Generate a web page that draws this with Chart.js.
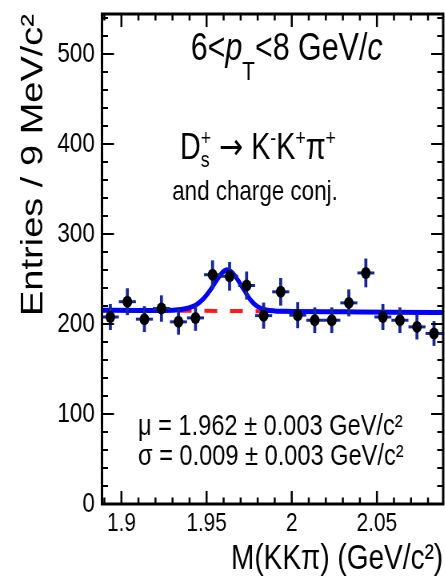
<!DOCTYPE html>
<html>
<head>
<meta charset="utf-8">
<script src="https://cdn.jsdelivr.net/npm/chart.js@4.4.1/dist/chart.umd.min.js"></script>
<style>
html, body { margin: 0; padding: 0; overflow: hidden; background: #fff; }
#wrap { width: 560px; height: 578px; transform: scaleX(0.8); transform-origin: 0 0; }
</style>
</head>
<body>
<div id="wrap"><canvas id="chart" width="560" height="578"></canvas></div>
<script>
'use strict'

// bin centres (GeV/c^2), entries and errors
const massX = [1.8935, 1.9035, 1.9135, 1.9235, 1.9335, 1.9435, 1.9535, 1.9635, 1.9735, 1.9835,
               1.9935, 2.0035, 2.0135, 2.0235, 2.0335, 2.0435, 2.0535, 2.0635, 2.0735, 2.0835];
const entries = [208, 225, 205.6, 217.4, 202.6, 207, 255, 253.3, 243, 209.5,
                 236, 210, 204.4, 204.4, 223.7, 257, 208, 204.4, 197, 189.7];
const entriesErr = [14.5, 15, 14.4, 14.7, 14.3, 14.4, 16, 16, 15.6, 14.5,
                    15.4, 14.5, 14.3, 14.3, 15, 16, 14.5, 14.3, 14, 13.8];
const binHalf = 0.005;

// fit (blue) and background (red dashed)
const fitX = [1.8886, 1.91, 1.925, 1.935, 1.94, 1.944, 1.948, 1.952, 1.956, 1.959, 1.962,
              1.965, 1.968, 1.972, 1.976, 1.98, 1.985, 1.99, 2.0, 2.03, 2.06, 2.0889];
const fitY = [215.6, 215.3, 215.2, 216.4, 218.5, 221.6, 228, 237.5, 249, 257, 260.5,
              257.5, 250, 238, 226.5, 219.5, 215.8, 214.7, 214.2, 213.8, 213.4, 213.0];
const bkgX = [1.8886, 2.0889];
const bkgY = [215.6, 213.0];

const xRange = [1.8886, 2.0889];
const yRange = [0, 545];
const xTicks = [1.9, 1.95, 2, 2.05];
const yTicks = [0, 100, 200, 300, 400, 500];

const xTitle = 'M(KKπ) (GeV/c²)';
const yTitle = 'Entries / 9 MeV/c²';
const muText = 'μ = 1.962 ± 0.003 GeV/c²';
const sigmaText = 'σ = 0.009 ± 0.003 GeV/c²';

const fam = '"Liberation Sans", Arial, Helvetica, sans-serif';
Chart.defaults.font.family = fam;
Chart.defaults.color = '#000';

function tickValues(majors, min, max) {
    const step = (majors[1] - majors[0]) / 5;
    const out = [];
    let k = Math.ceil((min - majors[0]) / step - 1e-6);
    for (; majors[0] + k * step <= max + 1e-9; k++) {
        out.push({ v: majors[0] + k * step, major: ((k % 5) + 5) % 5 === 0 });
    }
    return out;
}

const errorBars = {
    id: 'errorBars',
    beforeDatasetDraw(chart, args) {
        if (args.index !== 0) return;
        const ctx = chart.ctx;
        const xs = chart.scales.x;
        const ys = chart.scales.y;
        ctx.save();
        ctx.strokeStyle = '#14289a';
        for (let i = 0; i < massX.length; i++) {
            const px = xs.getPixelForValue(massX[i]);
            const py = ys.getPixelForValue(entries[i]);
            ctx.lineWidth = 3.75;
            ctx.beginPath();
            ctx.moveTo(px, ys.getPixelForValue(entries[i] - entriesErr[i]));
            ctx.lineTo(px, ys.getPixelForValue(entries[i] + entriesErr[i]));
            ctx.stroke();
            ctx.lineWidth = 3;
            ctx.beginPath();
            ctx.moveTo(xs.getPixelForValue(massX[i] - binHalf), py);
            ctx.lineTo(xs.getPixelForValue(massX[i] + binHalf), py);
            ctx.stroke();
        }
        ctx.restore();
    }
};

const frame = {
    id: 'frame',
    afterDatasetsDraw(chart) {
        const ctx = chart.ctx;
        const a = chart.chartArea;
        const xs = chart.scales.x;
        const ys = chart.scales.y;
        ctx.save();
        ctx.strokeStyle = '#000';
        ctx.lineWidth = 2;
        tickValues(yTicks, ys.min, ys.max).forEach(t => {
            const py = Math.round(ys.getPixelForValue(t.v));
            const len = t.major ? 15 : 7.5;
            ctx.beginPath();
            ctx.moveTo(a.left, py); ctx.lineTo(a.left + len, py);
            ctx.moveTo(a.right, py); ctx.lineTo(a.right - len, py);
            ctx.stroke();
        });
        ctx.lineWidth = 2.5;
        tickValues(xTicks, xs.min, xs.max).forEach(t => {
            const px = xs.getPixelForValue(t.v);
            const len = t.major ? 13 : 6.5;
            ctx.beginPath();
            ctx.moveTo(px, a.bottom); ctx.lineTo(px, a.bottom - len);
            ctx.moveTo(px, a.top); ctx.lineTo(px, a.top + len);
            ctx.stroke();
        });
        ctx.lineWidth = 3;
        ctx.strokeRect(a.left, a.top, a.right - a.left, a.bottom - a.top);
        ctx.restore();
    }
};

// draws a run of text pieces; stacked pieces share one x (sub + superscript)
function drawRich(ctx, x, y, parts) {
    let stackW = 0;
    parts.forEach(p => {
        ctx.font = (p.it ? 'italic ' : '') + p.size + 'px ' + (p.fam || fam);
        ctx.fillText(p.t, x, y + (p.dy || 0));
        const w = ctx.measureText(p.t).width;
        if (p.stack) {
            stackW = Math.max(stackW, w);
        } else {
            x += Math.max(w, stackW);
            stackW = 0;
        }
    });
}

const labels = {
    id: 'labels',
    afterDraw(chart) {
        const ctx = chart.ctx;
        ctx.save();
        ctx.fillStyle = '#000';
        ctx.textBaseline = 'alphabetic';
        ctx.textAlign = 'left';
        drawRich(ctx, 238.4, 60, [
            { t: '6<', size: 38 },
            { t: 'p', size: 38, it: true },
            { t: 'T', size: 26, dy: 20 },
            { t: '<8 GeV/', size: 38 },
            { t: 'c', size: 38, it: true }
        ]);
        drawRich(ctx, 225, 159, [
            { t: 'D', size: 36 },
            { t: '+', size: 22, dy: -14, stack: true },
            { t: 's', size: 22, dy: 8 },
            { t: ' ', size: 36 },
            { t: '\u2192', size: 36, fam: '"DejaVu Sans", sans-serif' },
            { t: ' ', size: 36 },
            { t: 'K', size: 36 },
            { t: '-', size: 22, dy: -14 },
            { t: 'K', size: 36 },
            { t: '+', size: 22, dy: -14 },
            { t: 'π', size: 36 },
            { t: '+', size: 22, dy: -14 }
        ]);
        ctx.font = '28px ' + fam;
        ctx.textAlign = 'center';
        ctx.fillText('and charge conj.', 318.75, 200);
        ctx.textAlign = 'left';
        ctx.font = '29.5px ' + fam;
        ctx.fillText(muText, 172.5, 435);
        ctx.fillText(sigmaText, 172.5, 465);
        ctx.restore();
    }
};

const ctx = document.getElementById('chart');
new Chart(ctx, {
    type: 'scatter',
    data: {
        datasets: [{
            label: 'data',
            data: massX.map((x, i) => ({ x: x, y: entries[i] })),
            pointRadius: 6,
            pointBackgroundColor: '#000',
            pointBorderWidth: 0,
            showLine: false
        },
        {
            label: 'fit',
            data: fitX.map((x, i) => ({ x: x, y: fitY[i] })),
            showLine: true,
            borderColor: '#0000ff',
            borderWidth: 5,
            pointRadius: 0,
            cubicInterpolationMode: 'monotone'
        },
        {
            label: 'background',
            data: bkgX.map((x, i) => ({ x: x, y: bkgY[i] })),
            showLine: true,
            borderColor: '#ff1a1a',
            borderWidth: 4,
            borderDash: [16, 16],
            pointRadius: 0
        }]
    },
    options: {
        responsive: false,
        devicePixelRatio: 1,
        animation: false,
        layout: { padding: { top: 14, right: 1.25, left: 0, bottom: 0 } },
        plugins: { legend: { display: false }, tooltip: { enabled: false } },
        scales: {
            x: {
                type: 'linear',
                position: 'bottom',
                min: xRange[0],
                max: xRange[1],
                bounds: 'data',
                grid: { display: false, drawTicks: false },
                border: { display: false },
                ticks: {
                    font: { size: 26 },
                    padding: 4,
                    maxRotation: 0,
                    autoSkip: false,
                    callback: v => String(Math.round(v * 100) / 100)
                },
                afterBuildTicks: s => { s.ticks = xTicks.map(v => ({ value: v })); },
                afterFit: s => { s.height = 74; s.paddingLeft = 0; s.paddingRight = 0; },
                title: {
                    display: true,
                    text: xTitle,
                    align: 'end',
                    font: { size: 35, lineHeight: 1.05 },
                    padding: 0
                }
            },
            y: {
                type: 'linear',
                min: yRange[0],
                max: yRange[1],
                bounds: 'data',
                grid: { display: false, drawTicks: false },
                border: { display: false },
                ticks: {
                    font: { size: 28 },
                    padding: 9,
                    autoSkip: false,
                    callback: v => String(v)
                },
                afterBuildTicks: s => { s.ticks = yTicks.map(v => ({ value: v })); },
                afterFit: s => { s.width = 127.5; s.paddingTop = 0; s.paddingBottom = 0; },
                title: {
                    display: true,
                    text: yTitle,
                    align: 'end',
                    font: { size: 38, lineHeight: 1.2 },
                    padding: { top: 20, bottom: 0 }
                }
            }
        }
    },
    plugins: [errorBars, frame, labels]
});
</script>
</body>
</html>
